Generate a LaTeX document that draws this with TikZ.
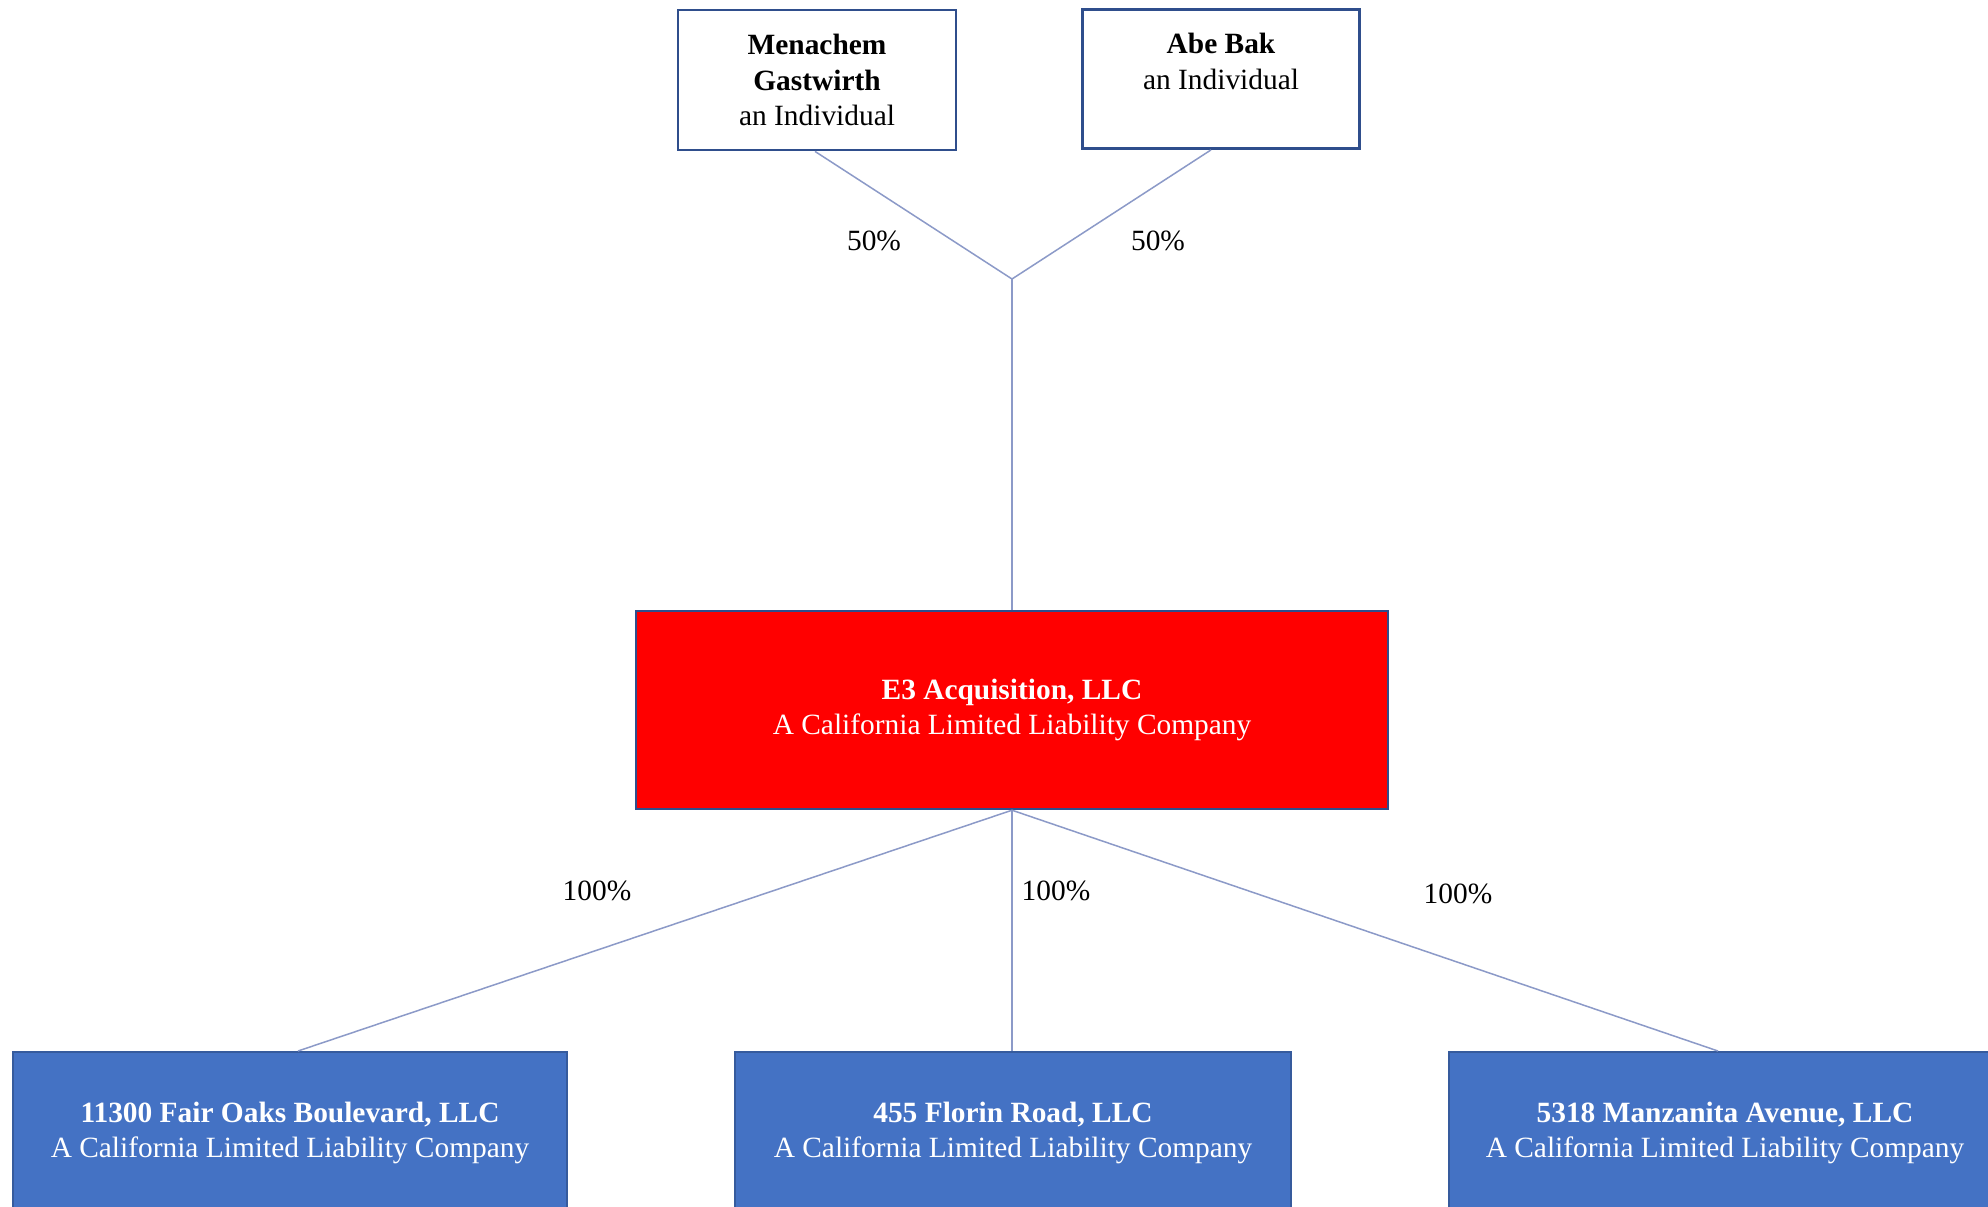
\documentclass[tikz,border=0pt]{standalone}
\usepackage{fontspec}
\setmainfont{Liberation Serif}
\definecolor{boxborder}{HTML}{2F4E8C}
\definecolor{officeblue}{HTML}{4472C4}
\definecolor{linkline}{HTML}{8C9AC8}
\begin{document}
\begin{tikzpicture}[x=0.5pt,y=-0.5pt,
  txt/.style={font=\fontsize{14.7}{17.8}\selectfont, align=center},
  personbox/.style={txt, draw=boxborder, line width=1.4pt, fill=white, inner sep=0pt},
  holdbox/.style={txt, draw=boxborder, line width=1.2pt, fill=red, text=white, inner sep=0pt},
  subbox/.style={txt, draw=officeblue!80!black, line width=1pt, fill=officeblue, text=white, inner sep=0pt},
  link/.style={draw=linkline, line width=0.75pt},
  pct/.style={txt, text=black}]
\useasboundingbox (0,0) rectangle (1988,1206);
\clip (0,0) rectangle (1988,1206);
\fill[white] (0,0) rectangle (1988,1206);

% owners
\node[personbox, minimum width=139pt, minimum height=70pt] (mg) at (817,80)
  {\textbf{Menachem}\\\textbf{Gastwirth}\\an Individual};
\node[personbox, minimum width=138.5pt, minimum height=69.5pt] (ab) at (1221,79)
  {\textbf{Abe Bak}\\an Individual\\\mbox{}};

% holding company
\node[holdbox, minimum width=376pt, minimum height=99pt] (e3) at (1012,710)
  {\textbf{E3 Acquisition, LLC}\\A California Limited Liability Company};

% subsidiaries
\node[subbox, minimum width=277pt, minimum height=81pt] (fo) at (290,1133)
  {\textbf{11300 Fair Oaks Boulevard, LLC}\\A California Limited Liability Company};
\node[subbox, minimum width=278pt, minimum height=81pt] (fr) at (1013,1133)
  {\textbf{455 Florin Road, LLC}\\A California Limited Liability Company};
\node[subbox, minimum width=276pt, minimum height=81pt] (ma) at (1725,1133)
  {\textbf{5318 Manzanita Avenue, LLC}\\A California Limited Liability Company};

% connectors
\coordinate (jn) at (1012,279);
\draw[link] ([xshift=-1pt]mg.south) -- (jn);
\draw[link] ([xshift=-5pt]ab.south) -- (jn);
\draw[link] (jn) -- (e3.north);
\draw[link] (e3.south) -- ([xshift=4pt]fo.north);
\draw[link] (e3.south) -- ([xshift=-0.5pt]fr.north);
\draw[link] (e3.south) -- ([xshift=-3.5pt]ma.north);

% percentages
\node[pct] (p1) at (874,241) {50\%};
\node[pct] (p2) at (1158,241) {50\%};
\node[pct] (p3) at (597,891) {100\%};
\node[pct] (p4) at (1056,891) {100\%};
\node[pct] (p5) at (1458,894) {100\%};
\end{tikzpicture}
\end{document}
